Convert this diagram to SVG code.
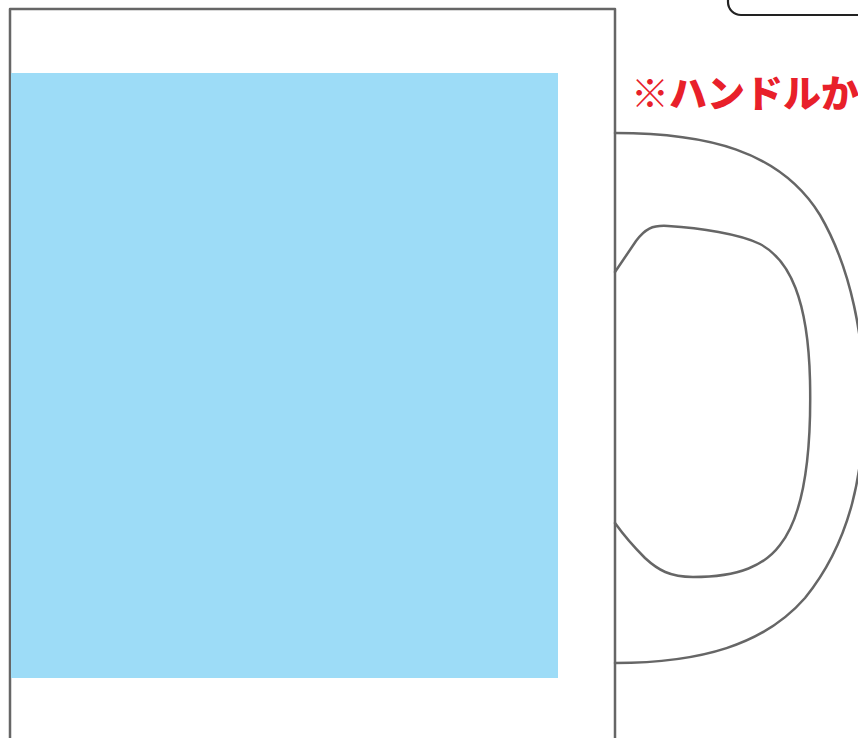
<svg xmlns="http://www.w3.org/2000/svg" width="858" height="738" viewBox="0 0 858 738">
<style>
.line{fill:none;stroke:#666666;stroke-width:2.5;stroke-linejoin:round;stroke-linecap:round}
.note{font-family:"Noto Sans CJK JP","Noto Sans",sans-serif;font-weight:900;font-size:38px;fill:#e8202a}
</style>
<rect width="858" height="738" fill="#ffffff"/>
<g id="mug-body">
<rect class="line" x="10" y="9" width="605" height="760" fill="#ffffff"/>
<rect x="11" y="73" width="547" height="605" fill="#9ddcf7"/>
</g>
<g id="handle">
<path class="line" d="M615,133 C705,133 780,150 820,215 C852,270 864,340 864,400 C864,470 852,540 805,598 C764,645 700,663 615,663"/>
<path class="line" d="M615,272 L636,241 C645,229 652,225 668,226 C700,228 740,234 760,244 C790,260 808,300 810,380 C812,470 800,520 780,545 C765,565 740,577 693,577 C670,577 658,570 645,558 C635,548 625,537 615,523"/>
</g>
<g id="label-box">
<rect x="728" y="-40" width="160" height="55" rx="13" ry="13" fill="#ffffff" stroke="#222222" stroke-width="2.2"/>
</g>
<text class="note" x="631" y="107">※ハンドルか</text>
</svg>
